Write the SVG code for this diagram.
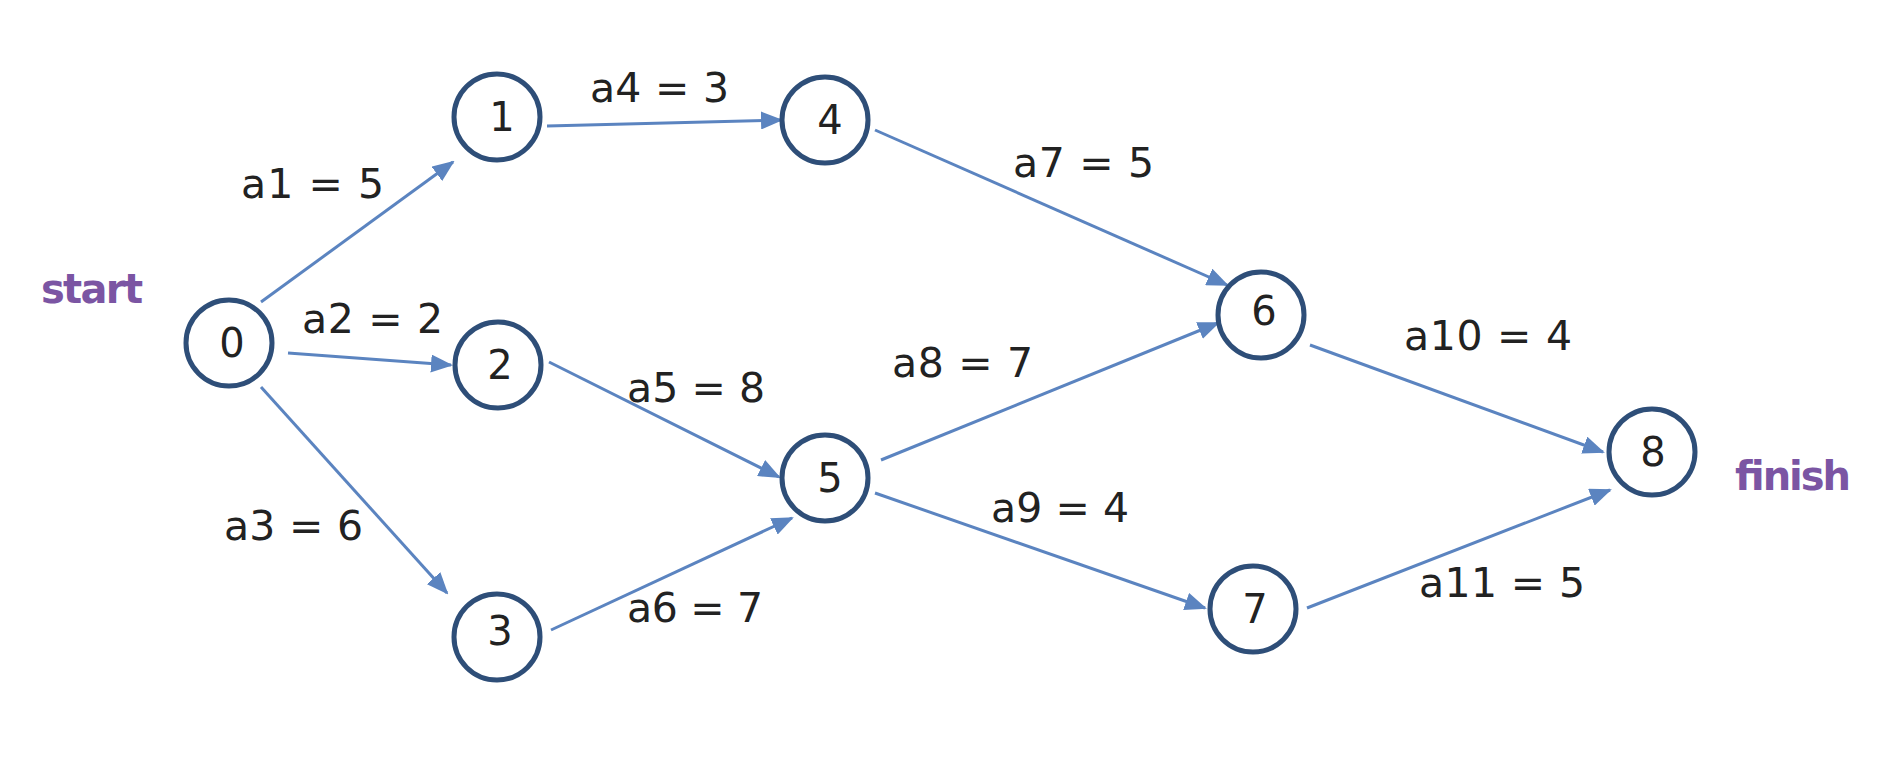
<svg xmlns="http://www.w3.org/2000/svg" width="1902" height="774" viewBox="0 0 1902 774">
<style>
.node circle{fill:#fff;stroke:#2e4e78;stroke-width:5}
.node text{font-family:"DejaVu Sans",sans-serif;font-size:40px;fill:#222;text-anchor:middle}
.edge{stroke:#5b84c0;stroke-width:3;fill:none;marker-end:url(#arr)}
.lbl{font-family:"DejaVu Sans",sans-serif;font-size:41px;fill:#222}
.tag{font-family:"DejaVu Sans",sans-serif;font-size:40px;fill:#7b55a3;font-weight:bold}
</style>
<defs>
<marker id="arr" markerUnits="userSpaceOnUse" markerWidth="22" markerHeight="18" refX="20" refY="9" orient="auto">
<path d="M0,0 L22,9 L0,18 z" fill="#5b84c0"/>
</marker>
</defs>
<rect width="1902" height="774" fill="#fff"/>
<g id="connectors">
<line class="edge" x1="261" y1="302" x2="453" y2="162"/>
<line class="edge" x1="288" y1="353" x2="451" y2="365"/>
<line class="edge" x1="261" y1="387" x2="447" y2="593"/>
<line class="edge" x1="547" y1="126" x2="781" y2="120"/>
<line class="edge" x1="549" y1="362" x2="779" y2="477"/>
<line class="edge" x1="551" y1="630" x2="792" y2="518"/>
<line class="edge" x1="875" y1="130" x2="1227" y2="285"/>
<line class="edge" x1="881" y1="460" x2="1218" y2="323"/>
<line class="edge" x1="875" y1="493" x2="1205" y2="608"/>
<line class="edge" x1="1310" y1="345" x2="1603" y2="452"/>
<line class="edge" x1="1307" y1="608" x2="1610" y2="490"/>
</g>
<g id="edge-labels">
<text class="lbl" x="241" y="198" textLength="143">a1 = 5</text>
<text class="lbl" x="302" y="333" textLength="141">a2 = 2</text>
<text class="lbl" x="224" y="540" textLength="139">a3 = 6</text>
<text class="lbl" x="590" y="102" textLength="139">a4 = 3</text>
<text class="lbl" x="627" y="402" textLength="138">a5 = 8</text>
<text class="lbl" x="627" y="622" textLength="136">a6 = 7</text>
<text class="lbl" x="1013" y="177" textLength="141">a7 = 5</text>
<text class="lbl" x="892" y="377" textLength="141">a8 = 7</text>
<text class="lbl" x="991" y="522" textLength="138">a9 = 4</text>
<text class="lbl" x="1404" y="350" textLength="168">a10 = 4</text>
<text class="lbl" x="1419" y="597" textLength="166">a11 = 5</text>
</g>
<text class="tag" x="41" y="303" textLength="102">start</text>
<text class="tag" x="1733" y="490" textLength="116">finish</text>
<g id="node0" class="node"><circle cx="229" cy="343" r="43"/><text x="232" y="357">0</text></g>
<g id="node1" class="node"><circle cx="497" cy="117" r="43"/><text x="502" y="131">1</text></g>
<g id="node2" class="node"><circle cx="498" cy="365" r="43"/><text x="500" y="379">2</text></g>
<g id="node3" class="node"><circle cx="497" cy="637" r="43"/><text x="500" y="645">3</text></g>
<g id="node4" class="node"><circle cx="825" cy="120" r="43"/><text x="830" y="134">4</text></g>
<g id="node5" class="node"><circle cx="825" cy="478" r="43"/><text x="830" y="492">5</text></g>
<g id="node6" class="node"><circle cx="1261" cy="315" r="43"/><text x="1264" y="325">6</text></g>
<g id="node7" class="node"><circle cx="1253" cy="609" r="43"/><text x="1255" y="623">7</text></g>
<g id="node8" class="node"><circle cx="1652" cy="452" r="43"/><text x="1653" y="466">8</text></g>
</svg>
